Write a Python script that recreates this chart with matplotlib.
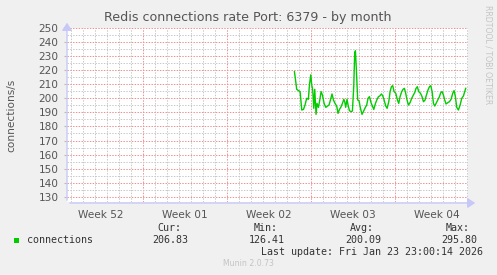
import matplotlib
matplotlib.use("Agg")
import matplotlib.pyplot as plt
import numpy as np

title = "Redis connections rate Port: 6379 - by month"
ylabel = "connections/s"
week_labels = ["Week 52", "Week 01", "Week 02", "Week 03", "Week 04"]
week_centers = [-3.5, 3.5, 10.5, 17.5, 24.5]   # days from Mon 2025-12-29
y_ticks = list(range(130, 251, 10))

# time in days since Mon 2025-12-29 00:00
days = [12.64, 12.83, 12.97, 13.11, 13.25, 13.39, 13.52, 13.66, 13.80, 13.89,
        14.00, 14.08, 14.16, 14.25, 14.33, 14.44, 14.52, 14.64, 14.75, 14.86,
        14.97, 15.11, 15.25, 15.39, 15.52, 15.66, 15.77, 15.89, 16.02, 16.16,
        16.27, 16.39, 16.50, 16.64, 16.75, 16.83, 16.91, 17.02, 17.11, 17.22,
        17.36, 17.47, 17.58, 17.66, 17.72, 17.80, 17.91, 18.02, 18.14, 18.27,
        18.41, 18.55, 18.66, 18.77, 18.89, 19.02, 19.14, 19.25, 19.39, 19.50,
        19.64, 19.75, 19.89, 20.00, 20.11, 20.25, 20.36, 20.50, 20.61, 20.72,
        20.83, 20.94, 21.08, 21.22, 21.33, 21.44, 21.58, 21.69, 21.80, 21.91,
        22.02, 22.14, 22.27, 22.41, 22.55, 22.66, 22.77, 22.88, 22.99, 23.14,
        23.27, 23.39, 23.52, 23.64, 23.77, 23.89, 24.00, 24.11, 24.22, 24.33,
        24.44, 24.58, 24.72, 24.83, 24.94, 25.05, 25.16, 25.27, 25.41, 25.55,
        25.69, 25.83, 25.94, 26.05, 26.16, 26.30, 26.44, 26.58, 26.72, 26.91]
connections = [219.0, 206.4, 205.5, 204.8, 191.7, 192.1, 195.2, 200.0, 199.3, 209.5,
               216.7, 209.5, 206.0, 192.9, 206.4, 188.6, 196.4, 193.6, 198.8, 204.8,
               202.4, 196.4, 193.6, 194.5, 195.2, 199.5, 203.1, 198.8, 196.4, 194.5,
               189.3, 192.1, 193.6, 196.4, 199.3, 197.6, 193.6, 199.3, 195.2, 191.2,
               190.5, 191.0, 208.3, 232.1, 233.8, 220.2, 198.8, 198.3, 192.9, 188.6,
               191.0, 193.6, 195.2, 200.0, 201.2, 196.9, 194.5, 192.1, 196.4, 198.8,
               201.2, 201.7, 203.1, 201.7, 198.8, 194.5, 192.9, 197.6, 204.8, 208.3,
               209.0, 204.8, 203.6, 198.8, 196.4, 201.2, 204.8, 206.4, 207.1, 203.6,
               198.8, 195.2, 196.9, 200.0, 202.4, 204.0, 207.1, 208.3, 204.8, 203.6,
               201.2, 197.6, 198.8, 202.4, 206.0, 208.3, 209.0, 204.8, 196.4, 194.5,
               196.4, 198.8, 201.2, 204.0, 204.8, 202.4, 198.8, 196.0, 196.9, 197.6,
               199.3, 203.6, 205.5, 201.2, 193.6, 191.7, 195.2, 200.0, 201.7, 207.1]
n = min(len(days), len(connections))
days = days[:n]
connections = connections[:n]

legend_name = "connections"
stat_names = ["Cur:", "Min:", "Avg:", "Max:"]
stat_values = ["206.83", "126.41", "200.09", "295.80"]
last_update = "Last update: Fri Jan 23 23:00:14 2026"
footer = "Munin 2.0.73"
side_text = "RRDTOOL / TOBI OETIKER"

W, H = 497, 275
fig = plt.figure(figsize=(W / 100, H / 100), dpi=100, facecolor="#F0F0F0")
L, R, T, B = 67, 468, 28, 202
ax = fig.add_axes([L / W, 1 - B / H, (R - L) / W, (B - T) / H])
ax.set_facecolor("white")
xmin, xmax = -6.31, 27.1
ymin, ymax = 126.3, 250.0
ax.set_xlim(xmin, xmax)
ax.set_ylim(ymin, ymax)

minor_c = "#c8c8c8"
major_c = "#ee9090"
dot = (0, (1.4, 1.4))
for d in np.arange(np.ceil(xmin), xmax, 1.0):
    if int(round(d)) % 7 == 0:
        continue
    ax.axvline(d, color=minor_c, lw=0.72, ls=dot, zorder=1)
for d in np.arange(-7, xmax, 7.0):
    if d > xmin:
        ax.axvline(d, color=major_c, lw=0.72, ls=dot, zorder=1)
for v in np.arange(130, 251, 5):
    if v % 10 == 0:
        ax.axhline(v, color=major_c, lw=0.72, ls=dot, zorder=1)
    else:
        ax.axhline(v, color=minor_c, lw=0.72, ls=dot, zorder=1)

ax.plot(days, connections, color="#00CC00", lw=1.0, zorder=3)

for s in ax.spines.values():
    s.set_visible(False)
ax.set_yticks(y_ticks)
ax.set_yticklabels([str(v) for v in y_ticks], fontsize=7.6, color="#555555")
ax.tick_params(axis="y", length=2, color="#bbbbbb", pad=4)
ax.set_xticks(week_centers)
ax.set_xticklabels(week_labels, fontsize=7.6, color="#555555")
ax.tick_params(axis="x", length=0, pad=6)

# axes lines with arrows
axis_c = "#c8c8f8"
fig.add_artist(matplotlib.patches.FancyArrowPatch(
    (L / W, 1 - (B + 1) / H), (478 / W, 1 - (B + 1) / H),
    transform=fig.transFigure, arrowstyle="-|>,head_length=3,head_width=2",
    color=axis_c, lw=1, mutation_scale=1.5))
fig.add_artist(matplotlib.patches.FancyArrowPatch(
    (L / W, 1 - (B + 1) / H), (L / W, 1 - 20 / H),
    transform=fig.transFigure, arrowstyle="-|>,head_length=3,head_width=2",
    color=axis_c, lw=1, mutation_scale=1.5))

fig.text(248 / W, 1 - 18 / H, title, ha="center", va="center",
         fontsize=9.1, color="#555555")
fig.text(11 / W, 1 - 115 / H, ylabel, ha="center", va="center",
         rotation=90, fontsize=7.6, color="#555555")
fig.text(488 / W, 1 - 5 / H, side_text, ha="center", va="top",
         rotation=270, fontsize=5.6, color="#c4c4c4")

mono = "DejaVu Sans Mono"
fs = 7.2
fig.patches.append(matplotlib.patches.Rectangle(
    (14 / W, 1 - 243 / H), 5 / W, 5 / H, transform=fig.transFigure,
    facecolor="#00CC00", edgecolor="none"))
fig.text(27 / W, 1 - 240 / H, legend_name, ha="left", va="center",
         family=mono, fontsize=fs, color="#333333")
stat_right = [181, 278, 374, 470]
val_right = [188, 285, 381, 477]
for nm, vl, xr, xv in zip(stat_names, stat_values, stat_right, val_right):
    fig.text(xr / W, 1 - 228 / H, nm, ha="right", va="center",
             family=mono, fontsize=fs, color="#333333")
    fig.text(xv / W, 1 - 240 / H, vl, ha="right", va="center",
             family=mono, fontsize=fs, color="#333333")
fig.text(483 / W, 1 - 252 / H, last_update, ha="right", va="center",
         family=mono, fontsize=fs, color="#333333")
fig.text(248 / W, 1 - 264 / H, footer, ha="center", va="center",
         fontsize=5.6, color="#c4c4c4")

fig.savefig("out.png", dpi=100, facecolor=fig.get_facecolor())
